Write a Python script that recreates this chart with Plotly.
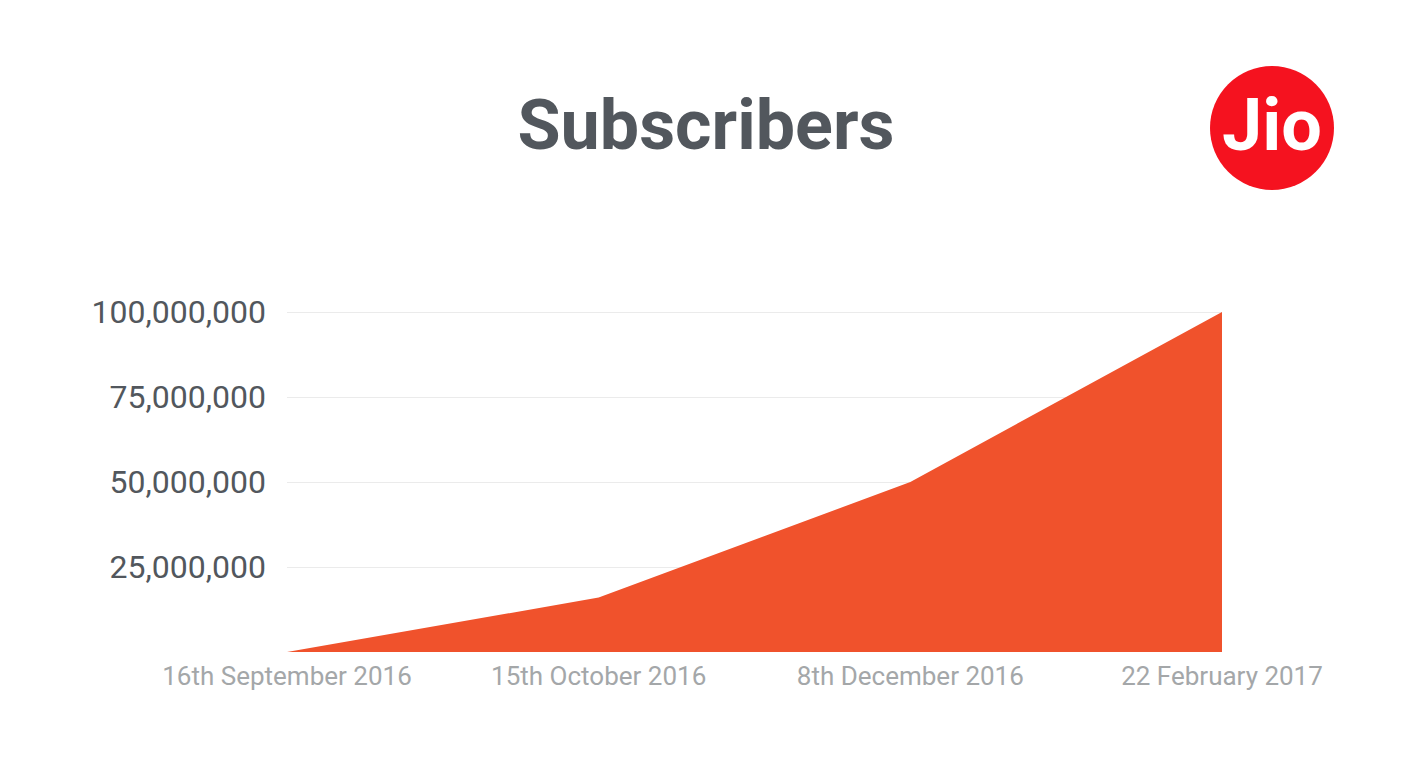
import plotly.graph_objects as go

dates = ["16th September 2016", "15th October 2016", "8th December 2016", "22 February 2017"]
subscribers = [0, 16_000_000, 50_000_000, 100_000_000]
y_ticks = [25_000_000, 50_000_000, 75_000_000, 100_000_000]
y_tick_labels = ["25,000,000", "50,000,000", "75,000,000", "100,000,000"]

# page has an 8px default body margin; positions are compensated
OFF = 8
W, H = 1418, 764
L, R, T, B = 287 - OFF, 1222 - OFF, 308 - OFF, 652 - OFF
ymax = 100_000_000 * 344 / 340

fig = go.Figure()
fig.add_trace(go.Scatter(
    x=dates, y=subscribers, mode="lines", fill="tozeroy",
    line=dict(width=0, color="#F0522C"), fillcolor="#F0522C",
    hoverinfo="x+y", showlegend=False,
))

pw, ph = R - L, B - T
cx, cy = 1272 - OFF, 128 - OFF

fig.update_layout(
    width=W, height=H,
    paper_bgcolor="white", plot_bgcolor="white",
    margin=dict(l=L, r=W - R, t=T, b=H - B, pad=0),
    font=dict(family="Roboto, sans-serif"),
    title=dict(
        text="<b>Subscribers</b>", xref="container", yref="container",
        x=(706 - OFF) / W, y=1 - (124 - OFF) / H, xanchor="center", yanchor="middle",
        font=dict(size=70, color="#52575D", family="Roboto, sans-serif"),
    ),
    xaxis=dict(
        type="category", range=[0, 3], showgrid=False, zeroline=False,
        showline=False, ticks="", tickfont=dict(size=26, color="#A4A7A9"),
        ticklabelstandoff=6, fixedrange=True,
    ),
    yaxis=dict(
        range=[0, ymax], tickvals=y_ticks, ticktext=y_tick_labels,
        showgrid=True, gridcolor="#EBEBEB", gridwidth=1, zeroline=False,
        showline=False, ticks="", tickfont=dict(size=32, color="#52575D"),
        ticklabelstandoff=20, fixedrange=True,
    ),
    shapes=[dict(
        type="circle", xref="paper", yref="paper",
        xsizemode="pixel", ysizemode="pixel",
        xanchor=(cx - L) / pw, yanchor=(B - cy) / ph,
        x0=-62, x1=62, y0=-62, y1=62,
        fillcolor="#F5121F", line=dict(width=0),
    )],
    annotations=[dict(
        text="<b>Jio</b>", xref="paper", yref="paper",
        x=(cx - L) / pw, y=(B - cy + 2) / ph,
        xanchor="center", yanchor="middle", showarrow=False,
        font=dict(size=72, color="white", family="Roboto, sans-serif"),
    )],
)

fig.write_html("out.html")
